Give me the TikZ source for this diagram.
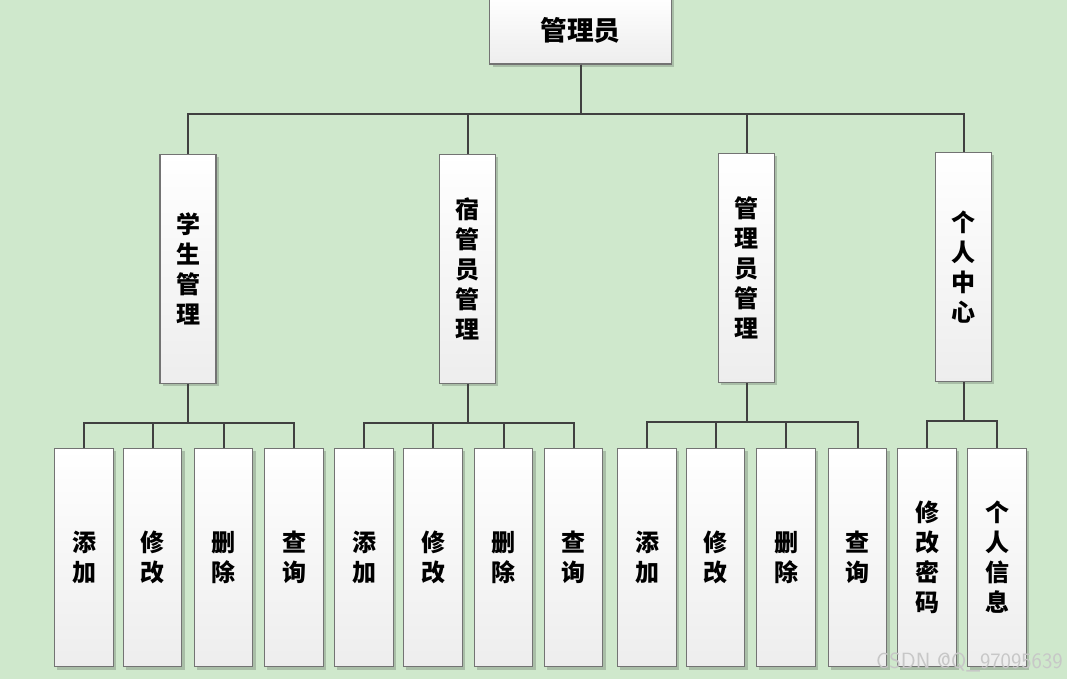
\documentclass[tikz,border=0pt]{standalone}
\usepackage{fontspec}
\newfontfamily\cjk{Noto Sans CJK SC}
\usetikzlibrary{shadows}
\definecolor{bg}{RGB}{207,232,204}
\definecolor{ln}{RGB}{64,64,64}
\tikzset{every node/.style={font=\cjk\bfseries\fontsize{18}{22.5}\selectfont, align=center, inner sep=0pt},
  box/.style={draw=black!55, line width=0.8pt, top color=white, bottom color=black!7,
    drop shadow={shadow xshift=2pt, shadow yshift=-2pt, fill=black, opacity=0.18}},
  lone/.style={box, minimum width=42pt, minimum height=172pt},
  leaf/.style={box, minimum width=44pt, minimum height=164pt},
  link/.style={ln, line width=1.5pt}}

\begin{document}
\begin{tikzpicture}[x=0.75pt, y=-0.75pt]
   \useasboundingbox (0,0) rectangle (1067,679);
   \fill[bg] (0,0) rectangle (1067,679);
   % top
   \node[box, minimum width=136pt, minimum height=51pt, font=\cjk\bfseries\fontsize{20}{24}\selectfont] (top) at (580.5,30) {管理员};
   % second row
   \node[lone] (a1) at (188,269)   {学\\生\\管\\理};
   \node[lone] (a2) at (467.5,269) {宿\\管\\员\\管\\理};
   \node[lone] (a3) at (746.5,268) {管\\理\\员\\管\\理};
   \node[lone] (a4) at (963.5,267) {个\\人\\中\\心};
   % third row
   \foreach \n/\x/\t in {b1/84/添\\加, b2/152.5/修\\改, b3/223.5/删\\除, b4/294/查\\询,
                         c1/364/添\\加, c2/433/修\\改, c3/503.5/删\\除, c4/573.5/查\\询,
                         d1/647/添\\加, d2/715.5/修\\改, d3/786/删\\除, d4/857.5/查\\询,
                         e1/927/修\\改\\密\\码, e2/997/个\\人\\信\\息}
     \node[leaf] (\n) at (\x,557.5) {\t};
   % links
   \foreach \c in {a1,a2,a3,a4}
     \draw[link] (top.south) -- ++(0,49) -| (\c.north);
   \foreach \c in {b1,b2,b3,b4}
     \draw[link] (a1.south) -- ++(0,39) -| (\c.north);
   \foreach \c in {c1,c2,c3,c4}
     \draw[link] (a2.south) -- ++(0,39) -| (\c.north);
   \foreach \c in {d1,d2,d3,d4}
     \draw[link] (a3.south) -- ++(0,39) -| (\c.north);
   \foreach \c in {e1,e2}
     \draw[link] (a4.south) -- ++(0,39) -| (\c.north);
   \node[font=\sffamily\fontsize{16.5}{18}\selectfont, text=black!22, anchor=east] (wm) at (1063,662) {CSDN @Q\_97095639};
\end{tikzpicture}
\end{document}
